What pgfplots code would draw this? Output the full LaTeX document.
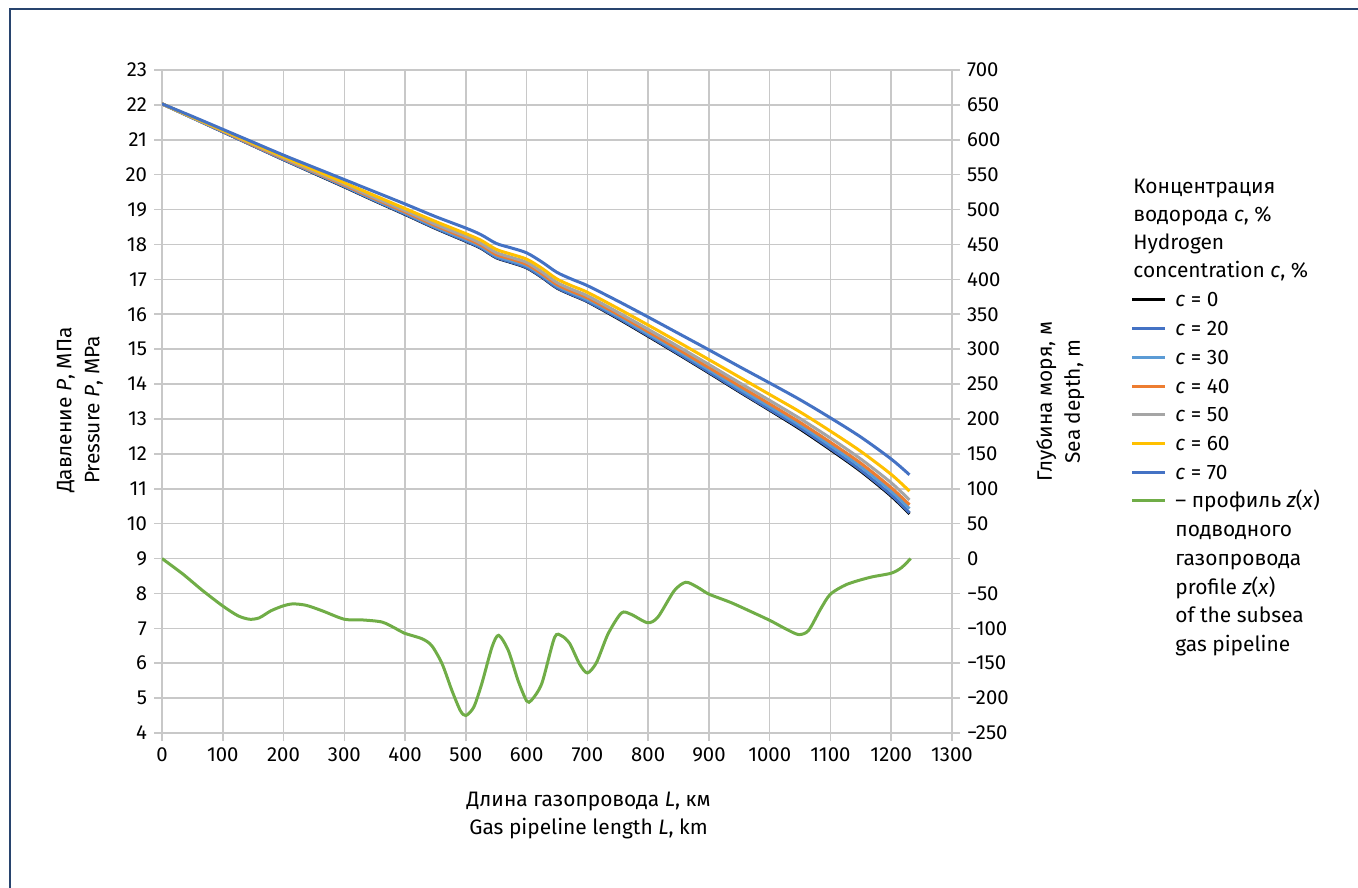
\documentclass[border=0pt]{standalone}
\usepackage{pgfplots}
\pgfplotsset{compat=1.18}
\usepackage{pgfplotstable}
\usepackage{fontspec}
\setmainfont{Fira Sans}

\definecolor{gridgray}{RGB}{200,200,200}
\definecolor{frameblue}{RGB}{40,68,110}
\definecolor{cA}{RGB}{0,0,0}
\definecolor{cB}{RGB}{68,114,196}
\definecolor{cC}{RGB}{91,155,213}
\definecolor{cD}{RGB}{237,125,49}
\definecolor{cE}{RGB}{165,165,165}
\definecolor{cF}{RGB}{255,192,0}
\definecolor{cG}{RGB}{68,114,196}
\definecolor{cgreen}{RGB}{112,173,71}

\pgfplotstableread{
L     c0     c20    c30    c40    c50    c60    c70
0     22.03  22.03  22.03  22.03  22.03  22.03  22.03
50    21.63  21.63  21.63  21.64  21.64  21.65  21.67
100   21.23  21.23  21.24  21.25  21.26  21.27  21.30
150   20.83  20.83  20.84  20.85  20.87  20.89  20.93
200   20.43  20.43  20.45  20.46  20.48  20.51  20.56
250   20.04  20.05  20.06  20.08  20.10  20.14  20.21
300   19.65  19.66  19.68  19.70  19.73  19.77  19.86
350   19.25  19.26  19.28  19.31  19.34  19.40  19.51
400   18.86  18.87  18.90  18.93  18.97  19.03  19.16
450   18.46  18.47  18.50  18.54  18.58  18.66  18.80
500   18.09  18.10  18.14  18.18  18.23  18.31  18.47
525   17.89  17.90  17.94  17.98  18.03  18.12  18.28
550   17.62  17.63  17.67  17.71  17.77  17.86  18.03
575   17.48  17.49  17.53  17.58  17.63  17.72  17.90
600   17.33  17.34  17.39  17.43  17.49  17.58  17.76
625   17.06  17.07  17.12  17.16  17.22  17.32  17.50
650   16.75  16.76  16.81  16.85  16.91  17.01  17.20
675   16.55  16.56  16.61  16.65  16.71  16.81  17.00
700   16.36  16.37  16.42  16.47  16.53  16.63  16.82
750   15.88  15.90  15.95  16.00  16.06  16.17  16.38
800   15.37  15.39  15.44  15.50  15.57  15.69  15.92
850   14.85  14.87  14.93  14.99  15.07  15.20  15.45
900   14.32  14.34  14.41  14.47  14.56  14.70  14.98
950   13.78  13.80  13.87  13.95  14.04  14.20  14.50
1000  13.25  13.27  13.35  13.43  13.53  13.70  14.03
1050  12.71  12.74  12.82  12.90  13.01  13.20  13.55
1100  12.12  12.15  12.24  12.33  12.45  12.65  13.03
1150  11.50  11.53  11.63  11.73  11.85  12.07  12.48
1200  10.79  10.82  10.93  11.03  11.17  11.41  11.85
1230  10.28  10.31  10.43  10.54  10.68  10.93  11.40
}\pressure

\pgfplotstableread{
L     d
0     0
34    -22
67    -46
100   -68
125   -82
144   -87
160   -85
179   -75
199   -68
215   -65
237   -67
264   -75
300   -87
330   -88
362   -91
384   -100
399   -107
428   -115
444   -125
461   -151
477   -189
491   -218
500   -225
513   -213
526   -180
543   -127
554   -110
570   -132
586   -175
600   -204
608   -203
625   -179
646   -113
658   -111
671   -122
687   -151
700   -164
715   -149
734   -108
756   -78
772   -80
799   -92
816   -84
843   -46
862   -34
881   -41
900   -51
936   -63
969   -76
1001  -89
1029  -102
1048  -109
1064  -103
1084  -72
1100  -51
1127  -37
1165  -27
1200  -21
1217  -13
1232  0
}\profile

\pgfplotsset{
  common/.style={
    at={(81bp,77.5bp)}, anchor=south west,
    scale only axis, width=395bp, height=331.5bp,
    xmin=0, xmax=1300,
    axis line style={gridgray, line width=0.8bp},
    tick style={gridgray, line width=0.8bp},
    tick align=outside, major tick length=4bp,
    ticklabel style={font=\fontsize{10.2}{12}\selectfont, text=black},
    label style={font=\fontsize{10.5}{14}\selectfont, align=center},
    /pgf/number format/assume math mode=true,
    /pgf/number format/1000 sep={},
  }
}

\begin{document}
\begin{tikzpicture}
\useasboundingbox (0,0) rectangle (679bp,444bp);
\draw[frameblue, line width=1.2bp] (5bp,0) -- (5bp,439.5bp) -- (679bp,439.5bp);

\begin{axis}[common,
  ymin=4, ymax=23,
  xtick={0,100,...,1300}, ytick={4,5,...,23},
  xtick pos=left, ytick pos=left,
  grid=major, grid style={gridgray, line width=0.8bp},
  xlabel={Длина газопровода \textit{L}, км\\Gas pipeline length \textit{L}, km},
  ylabel={Давление \textit{P}, МПа\\Pressure \textit{P}, MPa},
  xlabel style={at={(axis description cs:0.54,-0.125)}, anchor=center},
  ylabel style={at={(axis description cs:-0.104,0.487)}, anchor=center},
]
\addplot[cA, line width=1.5bp, smooth] table[x=L, y=c0] {\pressure};
\addplot[cB, line width=1.5bp, smooth] table[x=L, y=c20] {\pressure};
\addplot[cC, line width=1.5bp, smooth] table[x=L, y=c30] {\pressure};
\addplot[cD, line width=1.5bp, smooth] table[x=L, y=c40] {\pressure};
\addplot[cE, line width=1.5bp, smooth] table[x=L, y=c50] {\pressure};
\addplot[cF, line width=1.5bp, smooth] table[x=L, y=c60] {\pressure};
\addplot[cG, line width=1.5bp, smooth] table[x=L, y=c70] {\pressure};
\end{axis}

\begin{axis}[common,
  ymin=-250, ymax=700,
  axis x line=none, axis y line*=right,
  ytick={-250,-200,...,700},
  yticklabels={−250,−200,−150,−100,−50,0,50,100,150,200,250,300,350,400,450,500,550,600,650,700},
  ylabel={Глубина моря, м\\Sea depth, m},
  ylabel style={at={(axis description cs:1.137,0.5)}, anchor=center, rotate=0},
]
\addplot[cgreen, line width=1.5bp, smooth, tension=0.45] table[x=L, y=d] {\profile};
\end{axis}

% legend
\begin{scope}[font=\fontsize{10.5}{14}\selectfont]
\node[anchor=base west, inner sep=0] at (566.5bp,347bp) {Концентрация};
\node[anchor=base west, inner sep=0] at (566.5bp,333bp) {водорода \textit{c}, \%};
\node[anchor=base west, inner sep=0] at (566.5bp,319bp) {Hydrogen};
\node[anchor=base west, inner sep=0] at (566.5bp,305bp) {concentration \textit{c}, \%};
\foreach \col/\lab [count=\i from 0] in {cA/0, cB/20, cC/30, cD/40, cE/50, cF/60, cG/70}{
  \draw[\col, line width=1.5bp] (566bp,{294bp-\i*14.35bp}) -- (582.5bp,{294bp-\i*14.35bp});
  \node[anchor=base west, inner sep=0] at (587.5bp,{290.5bp-\i*14.35bp}) {\textit{c} = \lab};
}
\draw[cgreen, line width=1.5bp] (566bp,193.5bp) -- (582.5bp,193.5bp);
\node[anchor=base west, inner sep=0] at (587.5bp,190bp) {– профиль \textit{z}(\textit{x})};
\node[anchor=base west, inner sep=0] at (587.5bp,175.65bp) {подводного};
\node[anchor=base west, inner sep=0] at (587.5bp,161.3bp) {газопровода};
\node[anchor=base west, inner sep=0] at (587.5bp,146.95bp) {profile \textit{z}(\textit{x})};
\node[anchor=base west, inner sep=0] at (587.5bp,132.6bp) {of the subsea};
\node[anchor=base west, inner sep=0] at (587.5bp,118.25bp) {gas pipeline};
\end{scope}
\end{tikzpicture}
\end{document}
